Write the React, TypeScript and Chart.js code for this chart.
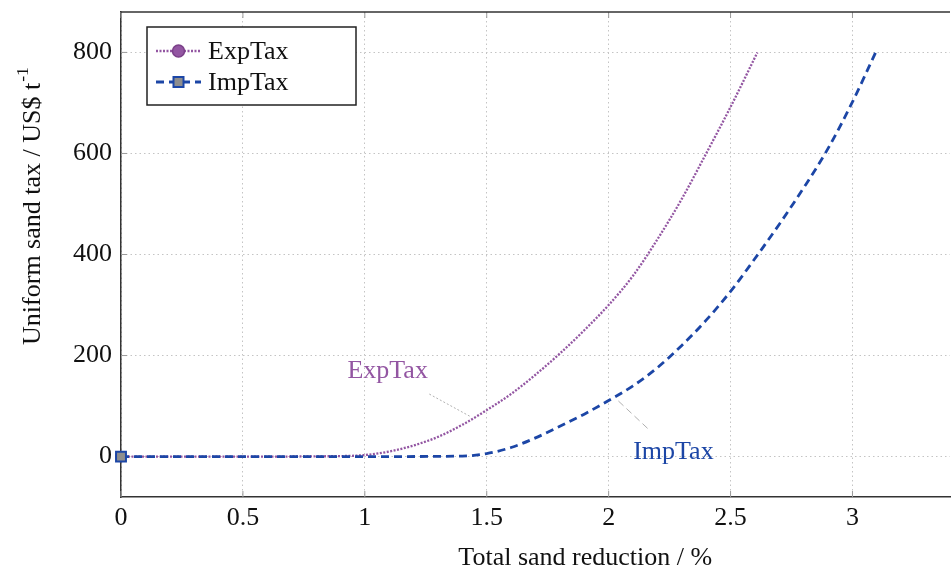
import React, { useEffect, useRef } from "react";
import { Chart, registerables } from "chart.js";

Chart.register(...registerables);

// ---- data ----
const expTaxX = [0, 0.5, 0.9, 1.0, 1.1, 1.2, 1.3, 1.4, 1.5, 1.6, 1.7, 1.8, 1.9, 2.0, 2.1, 2.2, 2.3, 2.4, 2.5, 2.61];
const expTaxY = [0, 0, 1, 3, 10, 22, 39, 63, 92, 124, 162, 204, 250, 300, 358, 430, 510, 600, 692, 800];
const impTaxX = [0, 0.5, 1.0, 1.4, 1.5, 1.6, 1.7, 1.8, 1.9, 2.0, 2.1, 2.2, 2.3, 2.4, 2.5, 2.6, 2.7, 2.8, 2.9, 3.0, 3.095];
const impTaxY = [0, 0, 0, 1, 6, 18, 37, 60, 84, 111, 140, 176, 220, 270, 327, 392, 460, 532, 610, 702, 800];
const seriesLabels = ["ExpTax", "ImpTax"];
const xTicks = [0, 0.5, 1, 1.5, 2, 2.5, 3];
const yTicks = [0, 200, 400, 600, 800];
const xTitle = "Total sand reduction / %";
const yTitle = "Uniform sand tax / US$ t";
const yTitleSup = "-1";
const calloutAnchorX = [1.43, 2.04];
const calloutAnchorY = [80, 110];

const FONT = '"Liberation Serif", "DejaVu Serif", serif';
const PURPLE = "#9356a2";
const BLUE = "#1c46a6";
const FS = 26;
const W = 951;
const H = 573;
const CW = W + 8; // canvas slightly wider; overflow is clipped

const extras = {
  id: "extras",
  beforeDatasetsDraw(chart: any) {
    const { ctx, chartArea: a, scales } = chart;
    ctx.save();
    ctx.strokeStyle = "#9a9a9a";
    ctx.lineWidth = 1;
    xTicks.forEach((v) => {
      const px = scales.x.getPixelForValue(v);
      ctx.beginPath();
      ctx.moveTo(px, a.bottom);
      ctx.lineTo(px, a.bottom - 6);
      ctx.moveTo(px, a.top);
      ctx.lineTo(px, a.top + 6);
      ctx.stroke();
    });
    yTicks.forEach((v) => {
      const py = scales.y.getPixelForValue(v);
      ctx.beginPath();
      ctx.moveTo(a.left, py);
      ctx.lineTo(a.left + 6, py);
      ctx.stroke();
    });
    ctx.restore();
  },
  afterDraw(chart: any) {
    const { ctx, chartArea: a, scales } = chart;
    ctx.save();
    // top border
    ctx.strokeStyle = "#333";
    ctx.lineWidth = 1.5;
    ctx.beginPath();
    ctx.moveTo(a.left, a.top);
    ctx.lineTo(a.right, a.top);
    ctx.stroke();

    // callouts
    const offs = [
      { lx: -42, ly: -23, tx: -82, ty: -45 },
      { lx: 32, ly: 30, tx: 55, ty: 51 },
    ];
    const dashes = [[2, 2], [7, 4]];
    chart.data.datasets.forEach((ds: any, i: number) => {
      const px = scales.x.getPixelForValue(calloutAnchorX[i]);
      const py = scales.y.getPixelForValue(calloutAnchorY[i]);
      const o = offs[i];
      ctx.strokeStyle = "#b0b0b0";
      ctx.lineWidth = 1;
      ctx.setLineDash(dashes[i]);
      ctx.beginPath();
      ctx.moveTo(px, py);
      ctx.lineTo(px + o.lx, py + o.ly);
      ctx.stroke();
      ctx.setLineDash([]);
      ctx.fillStyle = ds.borderColor;
      ctx.font = `${FS}px ${FONT}`;
      ctx.textAlign = "center";
      ctx.textBaseline = "middle";
      ctx.fillText(ds.label, px + o.tx, py + o.ty);
    });

    // legend
    const lx = a.left + 26;
    const ly = a.top + 15;
    const lw = 209;
    const lh = 78;
    ctx.fillStyle = "#fff";
    ctx.fillRect(lx, ly, lw, lh);
    ctx.strokeStyle = "#222";
    ctx.lineWidth = 1.5;
    ctx.strokeRect(lx, ly, lw, lh);
    chart.data.datasets.forEach((ds: any, i: number) => {
      const cy = ly + 24 + i * 31;
      const x0 = lx + 9;
      const x1 = lx + 54;
      ctx.strokeStyle = ds.borderColor;
      ctx.lineWidth = ds.borderWidth;
      ctx.setLineDash(ds.borderDash);
      ctx.beginPath();
      ctx.moveTo(x0, cy);
      ctx.lineTo(x1, cy);
      ctx.stroke();
      ctx.setLineDash([]);
      const mx = (x0 + x1) / 2;
      ctx.fillStyle = ds.pointBackgroundColor;
      ctx.strokeStyle = ds.pointBorderColor;
      ctx.lineWidth = 1.5;
      if (ds.pointStyle === "circle") {
        ctx.beginPath();
        ctx.arc(mx, cy, 6, 0, Math.PI * 2);
        ctx.fill();
        ctx.stroke();
      } else {
        ctx.fillRect(mx - 5, cy - 5, 10, 10);
        ctx.lineWidth = 2;
        ctx.strokeRect(mx - 5, cy - 5, 10, 10);
      }
      ctx.fillStyle = "#111";
      ctx.font = `${FS}px ${FONT}`;
      ctx.textAlign = "left";
      ctx.textBaseline = "middle";
      ctx.fillText(ds.label, lx + 61, cy + 1);
    });

    // axis titles
    ctx.fillStyle = "#111";
    ctx.font = `${FS}px ${FONT}`;
    ctx.textAlign = "center";
    ctx.textBaseline = "middle";
    ctx.fillText(xTitle, a.left + (a.right - a.left) * 0.56, a.bottom + 61);

    ctx.save();
    ctx.translate(33, a.top + (a.bottom - a.top) * 0.4);
    ctx.rotate(-Math.PI / 2);
    ctx.font = `${FS}px ${FONT}`;
    const w1 = ctx.measureText(yTitle).width;
    ctx.font = `${FS * 0.68}px ${FONT}`;
    const w2 = ctx.measureText(yTitleSup).width;
    const total = w1 + w2 + 1;
    ctx.textAlign = "left";
    ctx.font = `${FS}px ${FONT}`;
    ctx.fillText(yTitle, -total / 2, 0);
    ctx.font = `${FS * 0.68}px ${FONT}`;
    ctx.fillText(yTitleSup, -total / 2 + w1 + 1, -10);
    ctx.restore();

    ctx.restore();
  },
};

const zeroPad = (ax: any) => {
  ax.paddingTop = 0;
  ax.paddingBottom = 0;
  ax.paddingLeft = 0;
  ax.paddingRight = 0;
};

export default function App() {
  const ref = useRef<HTMLCanvasElement | null>(null);
  useEffect(() => {
    if (!ref.current) return;
    const firstOnly = (r: number) => (c: any) => (c.dataIndex === 0 ? r : 0);
    const chart = new Chart(ref.current, {
      type: "line",
      data: {
        datasets: [
          {
            label: seriesLabels[0],
            data: expTaxX.map((x, i) => ({ x, y: expTaxY[i] })),
            borderColor: PURPLE,
            backgroundColor: PURPLE,
            borderWidth: 2.3,
            borderDash: [2, 1.5],
            pointStyle: "circle",
            pointBackgroundColor: PURPLE,
            pointBorderColor: "#7a3f88",
            pointRadius: firstOnly(5) as any,
            pointBorderWidth: 1.5,
            cubicInterpolationMode: "monotone",
            clip: false,
            order: 1,
          } as any,
          {
            label: seriesLabels[1],
            data: impTaxX.map((x, i) => ({ x, y: impTaxY[i] })),
            borderColor: BLUE,
            backgroundColor: BLUE,
            borderWidth: 2.8,
            borderDash: [8, 5],
            pointStyle: "rect",
            pointBackgroundColor: "#8e8e8e",
            pointBorderColor: BLUE,
            pointRadius: firstOnly(7) as any,
            pointBorderWidth: 2,
            cubicInterpolationMode: "monotone",
            clip: false,
            order: 0,
          } as any,
        ],
      },
      options: {
        animation: false,
        responsive: false,
        devicePixelRatio: 1,
        layout: { padding: { top: 12, right: 0, left: 0, bottom: 0 } },
        plugins: { legend: { display: false }, tooltip: { enabled: false } },
        scales: {
          x: {
            type: "linear",
            min: 0,
            max: 3.4,
            afterBuildTicks: (ax: any) => {
              ax.ticks = xTicks.map((v) => ({ value: v }));
            },
            afterFit: (ax: any) => {
              ax.height = 76;
              zeroPad(ax);
            },
            ticks: {
              font: { family: FONT, size: FS },
              color: "#111",
              padding: 6,
              maxRotation: 0,
              autoSkip: false,
              callback: (v: any) => String(v),
            },
            grid: { color: "#c4c4c4", lineWidth: 1, drawTicks: false },
            border: { display: true, color: "#333", width: 1.5, dash: [1.5, 3] },
          },
          y: {
            type: "linear",
            min: -80,
            max: 880,
            afterBuildTicks: (ax: any) => {
              ax.ticks = yTicks.map((v) => ({ value: v }));
            },
            afterFit: (ax: any) => {
              ax.width = 121;
              zeroPad(ax);
            },
            ticks: {
              font: { family: FONT, size: FS },
              color: "#111",
              padding: 9,
              callback: (v: any) => String(v),
            },
            grid: { color: "#c4c4c4", lineWidth: 1, drawTicks: false },
            border: { display: true, color: "#333", width: 1.5, dash: [1.5, 3] },
          },
        },
      } as any,
      plugins: [extras],
    });
    return () => chart.destroy();
  }, []);
  return (
    <div style={{ position: "fixed", left: 0, top: 0, width: W, height: H, background: "#fff", overflow: "hidden" }}>
      <canvas ref={ref} width={CW} height={H} style={{ display: "block", width: CW, height: H }} />
    </div>
  );
}
